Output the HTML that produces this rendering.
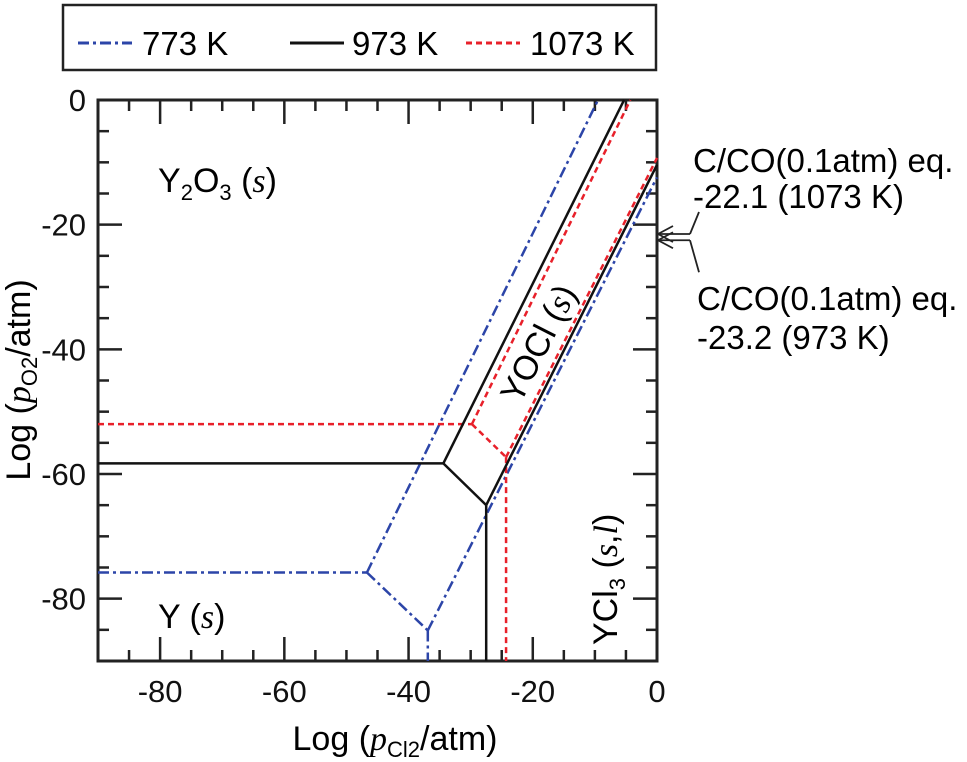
<!DOCTYPE html>
<html><head><meta charset="utf-8"><style>
body{margin:0;background:#fff;}
svg{display:block;font-family:"Liberation Sans",sans-serif;}
</style></head><body>
<svg id="chart" width="967" height="762" viewBox="0 0 967 762"></svg>
<script>
const xTicks=[-80,-60,-40,-20,0];
const yTicks=[0,-20,-40,-60,-80];
// boundary lines [x,y] in log units
const k973=[[[-90,-58.3],[-34.4,-58.3]],[[-34.4,-58.3],[-5.3,0]],[[-34.4,-58.3],[-27.5,-65]],[[-27.5,-65],[-27.5,-90]],[[-27.5,-65],[0,-10.4]]];
const k1073=[[[-90,-52],[-29.8,-52]],[[-29.8,-52],[-4.3,0]],[[-29.8,-52],[-24.3,-57.3]],[[-24.3,-57.3],[-24.3,-90]],[[-24.3,-57.3],[0,-9.3]]];
const k773=[[[-90,-75.8],[-46.7,-75.8]],[[-46.7,-75.8],[-9.5,0]],[[-46.7,-75.8],[-36.9,-85.1]],[[-36.9,-85.1],[-36.9,-90]],[[-36.9,-85.1],[0,-12.4]]];
const arrowVals=[-21.5,-22.5];
const L=98,R=657,T=100,B=661;
const sx=v=>L+(v+90)/90*(R-L);
const sy=v=>T+(-v)/90*(B-T);
const svg=document.getElementById('chart');
const NS='http://www.w3.org/2000/svg';
function mk(tag,attrs,parent){const e=document.createElementNS(NS,tag);for(const k in attrs)e.setAttribute(k,attrs[k]);(parent||svg).appendChild(e);return e;}
let f=mk('rect',{x:L,y:T,width:R-L,height:B-T,fill:'none',stroke:'#222','stroke-width':3});


for(let v=-85;v<0;v+=5){
  const major=v%20===0;const len=major?24:11;
  const x=sx(v);
  let t1=mk('line',{x1:x,y1:B,x2:x,y2:B-len,stroke:'#222','stroke-width':2.5});
  
  
  let t2=mk('line',{x1:x,y1:T,x2:x,y2:T+len,stroke:'#222','stroke-width':2.5});
  
  
  const y=sy(v);
  let t3=mk('line',{x1:L,y1:y,x2:L+len,y2:y,stroke:'#222','stroke-width':2.5});
  
  
  let t4=mk('line',{x1:R,y1:y,x2:R-len,y2:y,stroke:'#222','stroke-width':2.5});
  
  
}
xTicks.forEach(v=>{let t=mk('text',{x:sx(v),y:B+41,'font-size':31,'text-anchor':'middle',fill:'#111'});t.textContent=v;

});
yTicks.forEach(v=>{let t=mk('text',{x:L-12,y:sy(v)+11,'font-size':31,'text-anchor':'end',fill:'#111'});t.textContent=v;

});
function series(segs,color,dash,name){
  segs.forEach(s=>{let l=mk('line',{x1:sx(s[0][0]),y1:sy(s[0][1]),x2:sx(s[1][0]),y2:sy(s[1][1]),stroke:color,'stroke-width':2.5,'stroke-dasharray':dash});
  
  });
}
series(k773,'#2c45a8','11,4,3,4','boundary-773k');
series(k1073,'#e8202a','6,4','boundary-1073k');
series(k973,'#111','none','boundary-973k');
arrowVals.forEach((v,i)=>{
  const y=sy(v),x=R+1;
  let g=mk('g',{stroke:'#222','stroke-width':1.8,fill:'none'});
  
  
  mk('line',{x1:x,y1:y,x2:690,y2:y},g);
  mk('line',{x1:x,y1:y,x2:x+15,y2:y-8},g);
  mk('line',{x1:x,y1:y,x2:x+15,y2:y+8},g);
  mk('line',{x1:690,y1:y,x2:699,y2:i===0?y-22:y+32},g);
});
</script>
<svg style="position:absolute;left:0;top:0" width="967" height="762" font-family="Liberation Sans, sans-serif">
<g>
<rect x="63" y="5" width="593" height="65" fill="none" stroke="#222" stroke-width="2.5"/>
<line x1="78" y1="43" x2="132" y2="43" stroke="#2c45a8" stroke-width="3" stroke-dasharray="11,4,3,4"/>
<text x="142" y="55" font-size="33">773 K</text>
<line x1="290" y1="43" x2="344" y2="43" stroke="#111" stroke-width="3"/>
<text x="352" y="55" font-size="33">973 K</text>
<line x1="466" y1="43" x2="520" y2="43" stroke="#e8202a" stroke-width="3" stroke-dasharray="6,4"/>
<text x="530" y="55" font-size="33">1073 K</text>
</g>
<text x="158" y="192" font-size="34">Y<tspan font-size="22" dy="8">2</tspan><tspan dy="-8">O</tspan><tspan font-size="22" dy="8">3</tspan><tspan dy="-8"> (</tspan><tspan font-family="Liberation Serif, serif" font-style="italic">s</tspan>)</text>
<text x="158" y="628" font-size="34">Y (<tspan font-family="Liberation Serif, serif" font-style="italic">s</tspan>)</text>
<text transform="translate(520,405) rotate(-63)" font-size="34">YOCl (<tspan font-family="Liberation Serif, serif" font-style="italic">s</tspan>)</text>
<text transform="translate(617,645) rotate(-90)" font-size="34">YCl<tspan font-size="22" dy="8">3</tspan><tspan dy="-8"> (</tspan><tspan font-family="Liberation Serif, serif" font-style="italic">s</tspan>,<tspan font-family="Liberation Serif, serif" font-style="italic">l</tspan>)</text>
<text x="693" y="172" font-size="33">C/CO(0.1atm) eq.</text>
<text x="693" y="208" font-size="33">-22.1 (1073 K)</text>
<text x="697" y="310" font-size="33">C/CO(0.1atm) eq.</text>
<text x="697" y="349" font-size="33">-23.2 (973 K)</text>
<text x="395" y="750" font-size="34" text-anchor="middle">Log (<tspan font-family="Liberation Serif, serif" font-style="italic">p</tspan><tspan font-size="22" dy="7">Cl2</tspan><tspan dy="-7">/atm)</tspan></text>
<text transform="translate(30,380) rotate(-90)" font-size="34" text-anchor="middle">Log (<tspan font-family="Liberation Serif, serif" font-style="italic">p</tspan><tspan font-size="22" dy="7">O2</tspan><tspan dy="-7">/atm)</tspan></text>
</svg>
</body></html>
